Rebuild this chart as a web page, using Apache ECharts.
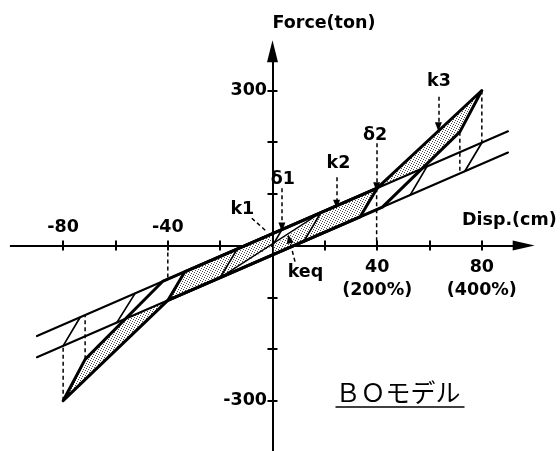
<!DOCTYPE html>
<html>
<head>
<meta charset="utf-8">
<script src="https://cdn.jsdelivr.net/npm/echarts@6/dist/echarts.min.js"></script>
<style>
  html, body { margin: 0; padding: 0; background: #fff; }
  #chart { width: 560px; height: 451px; }
</style>
</head>
<body>
<div id="chart"></div>
<script>
// ---- axis ticks and tick labels ----
const xTicks = [-80, -60, -40, -20, 20, 40, 60, 80];
const xLabelsBelow = [40, 80];
const xLabelsBelowText = { 40: '40\n(200%)', 80: '80\n(400%)' };
const xLabelsAbove = [-80, -40];
const yTicks = [-300, -200, -100, 100, 200, 300];
const yLabels = [300, -300];

// ---- post-yield (k2) envelope lines, disp (cm) / force (ton) ----
const upperK2 = [[-90, -175], [90, 221]];
const lowerK2 = [[-90, -216], [90, 180]];

// ---- hysteresis loops ----
const loop100 = [[18.5, 63.7], [12, 8.4], [-20, -62], [-13.5, -6.7], [18.5, 63.7]];
const loop200 = [[40, 111], [33.5, 55.7], [-40, -106], [-33.5, -50.7], [40, 111]];
const boLoop = [[40, 111], [80, 300], [71.6, 220], [42, 74.4], [-40, -106],
                [-80, -300], [-71.6, -220], [-42, -69.4], [40, 111]];
const unload300 = [[59, 152.8], [52.6, 97.7]];
const reload300 = [[-59.5, -148.9], [-52.5, -92.5]];
const unload400 = [[80, 199], [73.5, 143.7]];
const reload400 = [[-80, -194], [-73.5, -138.7]];
const keqLine = [[-20, -62], [18.5, 63.7]];
const elasticK1 = [[0, 0], [3.6, 31]];

// ---- dissipated-energy areas (stippled) ----
const areaNearRight = [[0.5, 1.6], [18, 59.4], [12, 8.4], [0.5, -16.9]];
const areaNearLeft = [[-0.5, -1.6], [-0.5, 21.9], [-13.5, -6.7], [-20, -62]];
const areaMidRight = [[12, 8.4], [18.5, 63.7], [40, 111], [33.5, 55.7]];
const areaMidLeft = [[-13.5, -6.7], [-33.5, -50.7], [-40, -106], [-20, -62]];
const areaHardRight = [[40, 111], [80, 300], [71.6, 220], [57.06, 148.5]];
const areaHardLeft = [[-40, -106], [-80, -300], [-71.6, -220], [-57.06, -143.5]];
const shadedAreas = [areaNearRight, areaNearLeft, areaMidRight, areaMidLeft, areaHardRight, areaHardLeft];

// ---- dashed guide lines ----
const guides = [
  [[80, 300], [80, 199]],
  [[71.6, 220], [71.6, 139.5]],
  [[-80, -300], [-80, -194]],
  [[-71.6, -220], [-71.6, -134.5]],
  [[-40, 0], [-40, -66]],
  [[39.8, 111], [39.8, 0]]
];

// ---- annotation pointers: [from, to, arrowhead] ----
const pointers = [
  [[-7.9, 53], [-2.2, 27], false],
  [[3.6, 111], [3.6, 36], true],
  [[24.5, 132], [24.5, 80], true],
  [[39.8, 198], [39.8, 114], true],
  [[63.4, 288], [63.4, 230], true],
  [[8.6, -31], [6.4, 13], true]
];

// ---- annotation texts: [text, disp, force] ----
const notes = [
  ['k1', -11.5, 69],
  ['δ1', 4.0, 128],
  ['k2', 25.2, 159],
  ['δ2', 39.2, 214],
  ['k3', 63.6, 317],
  ['keq', 12.6, -52]
];

const FONT = 'DejaVu Sans';
const TXT = { color: '#000', fontFamily: FONT, fontSize: 17.5, fontWeight: 'bold' };

// stipple tile for the shaded areas
const tile = document.createElement('canvas');
tile.width = 5; tile.height = 5;
const tg = tile.getContext('2d');
tg.fillStyle = '#ffffff'; tg.fillRect(0, 0, 5, 5);
tg.fillStyle = '#4a4a4a';
[[0, 0], [2, 1], [4, 2], [1, 3], [3, 4]].forEach(([x, y]) => tg.fillRect(x, y, 1, 1));
const stipple = { image: tile, repeat: 'repeat' };

function solid(data, width) {
  return {
    type: 'line', data, symbol: 'none', showSymbol: false, silent: true, z: 3,
    lineStyle: { color: '#000', width, cap: 'round', join: 'round' }
  };
}
function dashed(data) {
  return {
    type: 'line', data, symbol: 'none', showSymbol: false, silent: true, z: 3,
    lineStyle: { color: '#000', width: 1.5, type: [4, 3] }
  };
}
function textMarks(items) {
  return {
    type: 'scatter', silent: true, z: 5, symbolSize: 1,
    itemStyle: { color: 'rgba(0,0,0,0)', opacity: 1 },
    data: items,
    label: Object.assign({ show: true, formatter: '{b}' }, TXT)
  };
}

// tick labels placed on the axes through the value scales
const tickLabelItems = [
  ...xLabelsBelow.map(v => ({ name: xLabelsBelowText[v], value: [v, 0], label: { position: 'bottom', distance: 10, lineHeight: 23 } })),
  ...xLabelsAbove.map(v => ({ name: String(v), value: [v, 0], label: { position: 'top', distance: 9 } })),
  ...yLabels.map(v => ({ name: String(v), value: [0, v], label: { position: 'left', distance: 5 } }))
];
const noteItems = notes.map(n => ({ name: n[0], value: [n[1], n[2]], label: { position: 'inside' } }));

const series = [
  {
    type: 'custom', coordinateSystem: 'cartesian2d', silent: true, z: 1,
    data: shadedAreas.map((_, i) => i),
    renderItem: (params, api) => ({
      type: 'polygon',
      shape: { points: shadedAreas[params.dataIndex].map(p => api.coord(p)) },
      style: { fill: stipple, stroke: null }
    })
  },
  solid(upperK2, 2.1),
  solid(lowerK2, 2.1),
  solid(loop100, 1.7),
  solid(loop200, 3),
  solid(boLoop, 3),
  solid(unload300, 1.7),
  solid(reload300, 1.7),
  solid(unload400, 1.7),
  solid(reload400, 1.7),
  solid(keqLine, 1.3),
  solid(elasticK1, 1.7),
  ...guides.map(dashed),
  {
    type: 'line', data: [], silent: true,
    markLine: {
      silent: true, animation: false,
      symbol: ['none', 'triangle'], symbolSize: [7, 9],
      label: { show: false },
      lineStyle: { color: '#000', width: 1.5, type: [4, 3] },
      data: pointers.map(([a, b, head]) => head
        ? [{ coord: a }, { coord: b }]
        : [{ coord: a, symbol: 'none' }, { coord: b, symbol: 'none' }])
    }
  },
  textMarks(noteItems),
  textMarks(tickLabelItems)
];

const axisLineStyle = { color: '#000', width: 2 };
const tickStyle = { color: '#000', width: 2 };

const option = {
  animation: false,
  backgroundColor: '#fff',
  grid: {
    left: 10.8, top: 51.2, width: 512.9, height: 401.2,
    containLabel: false, outerBoundsMode: 'none'
  },
  xAxis: [
    {
      type: 'value', min: -100, max: 96, interval: 20, position: 'bottom',
      axisLine: { onZero: true, symbol: ['none', 'triangle'], symbolSize: [10, 22], lineStyle: axisLineStyle },
      axisTick: { show: true, customValues: xTicks, length: 5, lineStyle: tickStyle },
      axisLabel: { show: false },
      splitLine: { show: false },
      name: 'Disp.(cm)', nameLocation: 'end', nameGap: 33,
      nameTextStyle: Object.assign({ align: 'right', verticalAlign: 'bottom', padding: [0, 0, 16, 0] }, TXT)
    },
    {
      type: 'value', min: -100, max: 96, interval: 20, position: 'bottom',
      axisLine: { onZero: true, show: true, lineStyle: axisLineStyle },
      axisTick: { show: true, inside: true, customValues: xTicks, length: 5, lineStyle: tickStyle },
      axisLabel: { show: false },
      splitLine: { show: false }
    }
  ],
  yAxis: [
    {
      type: 'value', min: -400, max: 376, interval: 100, position: 'left',
      axisLine: { onZero: true, symbol: ['none', 'triangle'], symbolSize: [11, 22], lineStyle: axisLineStyle },
      axisTick: { show: true, customValues: yTicks, length: 5, lineStyle: tickStyle },
      axisLabel: { show: false },
      splitLine: { show: false },
      name: 'Force(ton)', nameLocation: 'end', nameGap: 19,
      nameTextStyle: Object.assign({ align: 'left', verticalAlign: 'bottom' }, TXT)
    },
    {
      type: 'value', min: -400, max: 376, interval: 100, position: 'left',
      axisLine: { onZero: true, show: true, lineStyle: axisLineStyle },
      axisTick: { show: true, inside: true, customValues: yTicks, length: 5, lineStyle: tickStyle },
      axisLabel: { show: false },
      splitLine: { show: false }
    }
  ],
  graphic: [
    {
      type: 'group', left: 333, top: 380,
      children: [
        { type: 'text', x: 0, y: 0, style: { text: 'ＢＯモデル', fill: '#000', font: '25px "Noto Sans CJK JP"' } },
        { type: 'line', shape: { x1: 0, y1: 27, x2: 129, y2: 27 }, style: { stroke: '#000', lineWidth: 1.5 } }
      ]
    }
  ],
  series
};

const chart = echarts.init(document.getElementById('chart'), null, { renderer: 'canvas' });
chart.setOption(option);
</script>
</body>
</html>
